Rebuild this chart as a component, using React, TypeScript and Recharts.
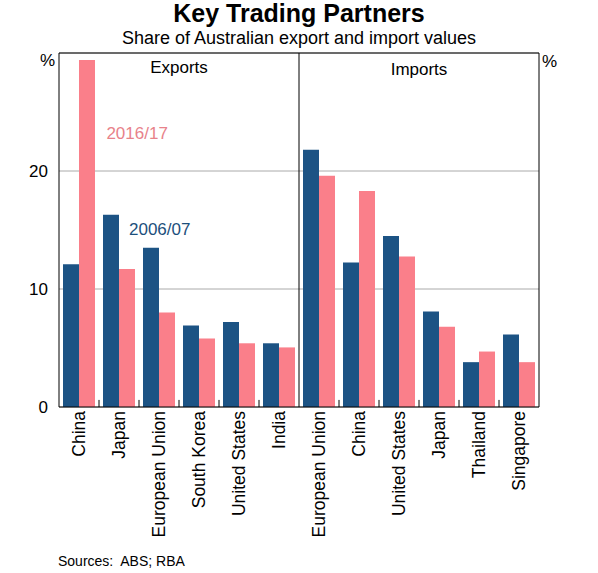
import React from 'react'
import {
  BarChart,
  Bar,
  XAxis,
  YAxis,
  CartesianGrid,
  ReferenceLine,
  ReferenceArea,
  ReferenceDot,
} from 'recharts'

const FONT = 'Arial, "Liberation Sans", sans-serif'
const BLUE = '#1c5384'
const PINK = '#fa7f8a'

// Exports panel (per cent of total)
const exportCountries = ['China', 'Japan', 'European Union', 'South Korea', 'United States', 'India']
const exports0607 = [12.1, 16.3, 13.5, 6.9, 7.2, 5.4]
const exports1617 = [29.4, 11.7, 8.0, 5.8, 5.4, 5.05]

// Imports panel (per cent of total)
const importCountries = ['European Union', 'China', 'United States', 'Japan', 'Thailand', 'Singapore']
const imports0607 = [21.8, 12.25, 14.5, 8.1, 3.8, 6.15]
const imports1617 = [19.6, 18.3, 12.75, 6.8, 4.7, 3.8]

const yTicks = [0, 10, 20]

const rows = [
  ...exportCountries.map((name, i) => ({ key: `exp-${i}`, name, y0607: exports0607[i], y1617: exports1617[i] })),
  ...importCountries.map((name, i) => ({ key: `imp-${i}`, name, y0607: imports0607[i], y1617: imports1617[i] })),
]
const nameByKey: Record<string, string> = Object.fromEntries(rows.map(r => [r.key, r.name]))

// small tick marks on the category boundaries, inside each panel
const boundaryKeys = rows.map(r => r.key).filter(k => k !== 'exp-0' && k !== 'imp-0')

function CountryTick({ x, y, payload }: any) {
  const ty = y - 2
  return (
    <text
      x={x}
      y={ty}
      transform={`rotate(-90 ${x} ${ty})`}
      textAnchor="end"
      dy="0.32em"
      fontSize={17.5}
      fontFamily={FONT}
      fill="#000"
    >
      {nameByKey[payload.value]}
    </text>
  )
}

const AXIS_TICK = { fill: '#000', fontSize: 17, fontFamily: FONT }
const PANEL_LABEL = { position: 'insideTop' as const, offset: 8, fill: '#000', fontSize: 17, fontFamily: FONT }

export default function App() {
  return (
    <div style={{ position: 'absolute', left: 0, top: 0, width: 598, height: 573, background: '#fff', fontFamily: FONT }}>
      <div style={{ position: 'absolute', top: 1, left: 0, width: 598, textAlign: 'center', fontSize: 25, fontWeight: 'bold', lineHeight: 1 }}>
        Key Trading Partners
      </div>
      <div style={{ position: 'absolute', top: 29, left: 0, width: 598, textAlign: 'center', fontSize: 18, lineHeight: 1 }}>
        Share of Australian export and import values
      </div>
      <div style={{ position: 'absolute', top: 52, left: 40, fontSize: 17, lineHeight: 1 }}>%</div>
      <div style={{ position: 'absolute', top: 53, left: 542, fontSize: 17, lineHeight: 1 }}>%</div>
      <div style={{ position: 'absolute', top: 0, left: 0 }}>
        <BarChart
          width={598}
          height={573}
          data={rows}
          margin={{ top: 53, right: 0, bottom: 36, left: 0 }}
          barCategoryGap="10%"
          barGap={0}
        >
          <CartesianGrid yAxisId="l" xAxisId="c" vertical={false} stroke="#aaaaaa" />
          <XAxis
            xAxisId="c"
            dataKey="key"
            height={130}
            interval={0}
            tickLine={false}
            tickMargin={0}
            axisLine={{ stroke: '#000' }}
            tick={<CountryTick />}
          />
          <YAxis
            yAxisId="l"
            orientation="left"
            width={59}
            domain={[0, 30]}
            ticks={yTicks}
            tickLine={false}
            tickMargin={5}
            axisLine={{ stroke: '#000' }}
            tick={AXIS_TICK}
          />
          <YAxis
            yAxisId="r"
            orientation="right"
            width={59}
            domain={[0, 30]}
            ticks={yTicks}
            tickLine={false}
            tickMargin={2}
            axisLine={{ stroke: '#000' }}
            tick={AXIS_TICK}
          />
          <Bar xAxisId="c" yAxisId="l" dataKey="y0607" fill={BLUE} isAnimationActive={false} name="2006/07" />
          <Bar xAxisId="c" yAxisId="l" dataKey="y1617" fill={PINK} isAnimationActive={false} name="2016/17" />
          <ReferenceLine xAxisId="c" yAxisId="l" y={30} stroke="#000" />
          <ReferenceLine xAxisId="c" yAxisId="l" x="imp-0" position="start" stroke="#000" />
          {boundaryKeys.map(k => (
            <ReferenceLine
              key={k}
              xAxisId="c"
              yAxisId="l"
              position="start"
              segment={[{ x: k, y: 0 }, { x: k, y: 0.6 }]}
              stroke="#000"
            />
          ))}
          <ReferenceArea xAxisId="c" yAxisId="l" x1="exp-0" x2="exp-5" fill="none" strokeWidth={0} label={{ value: 'Exports', ...PANEL_LABEL }} />
          <ReferenceArea xAxisId="c" yAxisId="l" x1="imp-0" x2="imp-5" fill="none" strokeWidth={0} label={{ value: 'Imports', ...PANEL_LABEL, offset: 10 }} />
          <ReferenceDot
            xAxisId="c"
            yAxisId="l"
            x="exp-1"
            y={23.2}
            r={0}
            fill="none"
            stroke="none"
            label={{ value: '2016/17', position: 'right', offset: -12.6, fill: '#e8828a', fontSize: 17, fontFamily: FONT }}
          />
          <ReferenceDot
            xAxisId="c"
            yAxisId="l"
            x="exp-1"
            y={15.1}
            r={0}
            fill="none"
            stroke="none"
            label={{ value: '2006/07', position: 'right', offset: 10, fill: '#1c4f7c', fontSize: 17, fontFamily: FONT }}
          />
        </BarChart>
      </div>
      <div style={{ position: 'absolute', top: 554, left: 58, fontSize: 14, lineHeight: 1, whiteSpace: 'pre' }}>
        {'Sources:  ABS; RBA'}
      </div>
    </div>
  )
}
